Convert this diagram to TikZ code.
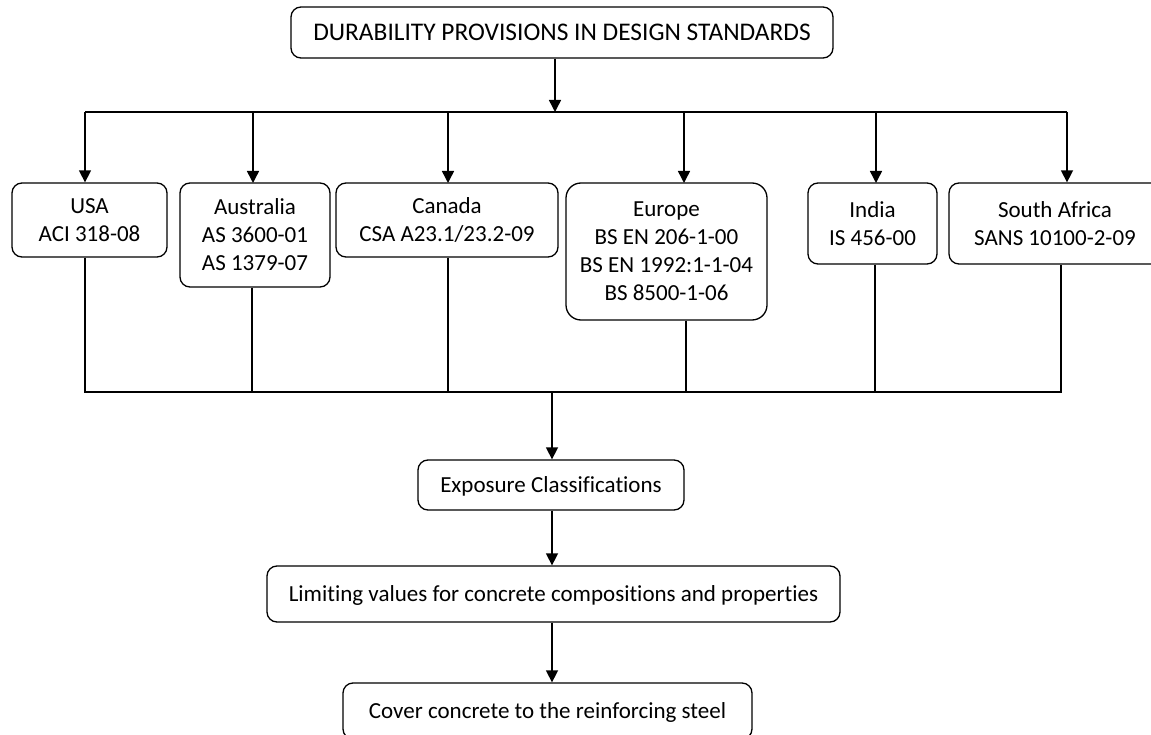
\documentclass[tikz,border=0pt]{standalone}
\usepackage{fontspec}
\setmainfont{Carlito}[Ligatures={NoCommon}]
\usetikzlibrary{arrows.meta}
\begin{document}
\begin{tikzpicture}[x=1pt,y=-1pt,
  box/.style={draw, line width=1.3pt, rounded corners=10pt, align=center, inner sep=0pt,
    text depth=0pt, font=\fontsize{23}{28}\selectfont},
  conn/.style={line width=1.5pt},
  arr/.style={line width=1.5pt, -{Triangle[width=12pt,length=12pt]}}]
\useasboundingbox (0,0) rectangle (1151,735);
\clip (0,0) rectangle (1151,735);
\node[box, minimum width=542pt, minimum height=51pt, font=\fontsize{25.4}{28}\selectfont] (top) at (562,32.5) {DURABILITY PROVISIONS IN DESIGN STANDARDS};
\node[box, minimum width=155pt, minimum height=74pt] (usa) at (89.5,220) {USA\\ACI 318-08};
\node[box, minimum width=150pt, minimum height=104pt] (aus) at (255,235) {Australia\\AS 3600-01\\AS 1379-07};
\node[box, minimum width=222pt, minimum height=74pt] (can) at (447,220) {Canada\\CSA A23.1/23.2-09};
\node[box, minimum width=201pt, minimum height=137pt, rounded corners=15pt] (eur) at (666.5,251.5) {Europe\\BS EN 206-1-00\\BS EN 1992:1-1-04\\BS 8500-1-06};
\node[box, minimum width=129pt, minimum height=81pt] (ind) at (872.5,223.5) {India\\IS 456-00};
\node[box, minimum width=212pt, minimum height=81pt] (sa) at (1055,223.5) {South Africa\\SANS 10100-2-09};
\node[box, minimum width=266pt, minimum height=50pt] (exp) at (551,485) {Exposure Classifications};
\node[box, minimum width=573pt, minimum height=56pt] (lim) at (553.5,594) {Limiting values for concrete compositions and properties};
\node[box, minimum width=409pt, minimum height=56pt] (cov) at (547.5,711) {Cover concrete to the reinforcing steel};
% top distribution
\coordinate (tj) at (555,112);
\coordinate (tl) at (85,112);
\coordinate (tr) at (1067,112);
\draw[arr] (top.south -| tj) -- (tj);
\draw[conn] (tl) -- (tr);
\draw[arr] (tl) -- (tl |- usa.north);
\draw[arr] (253,112) -- (253,183);
\draw[arr] (448,112) -- (448,183);
\draw[arr] (684,112) -- (684,183);
\draw[arr] (876,112) -- (876,183);
\draw[arr] (tr) -- (tr |- sa.north);
% bottom collection
\coordinate (bl) at (85,392);
\coordinate (br) at (1061,392);
\coordinate (bj) at (552,392);
\draw[conn] (usa.south -| bl) -- (bl) -- (br) -- (br |- sa.south);
\draw[conn] (aus.south -| 252,0) -- (252,392);
\draw[conn] (can.south -| 448,0) -- (448,392);
\draw[conn] (eur.south -| 686,0) -- (686,392);
\draw[conn] (ind.south -| 875,0) -- (875,392);
\draw[arr] (bj) -- (bj |- exp.north);
\draw[arr] (exp.south -| bj) -- (bj |- lim.north);
\draw[arr] (lim.south -| bj) -- (bj |- cov.north);
\end{tikzpicture}
\end{document}
